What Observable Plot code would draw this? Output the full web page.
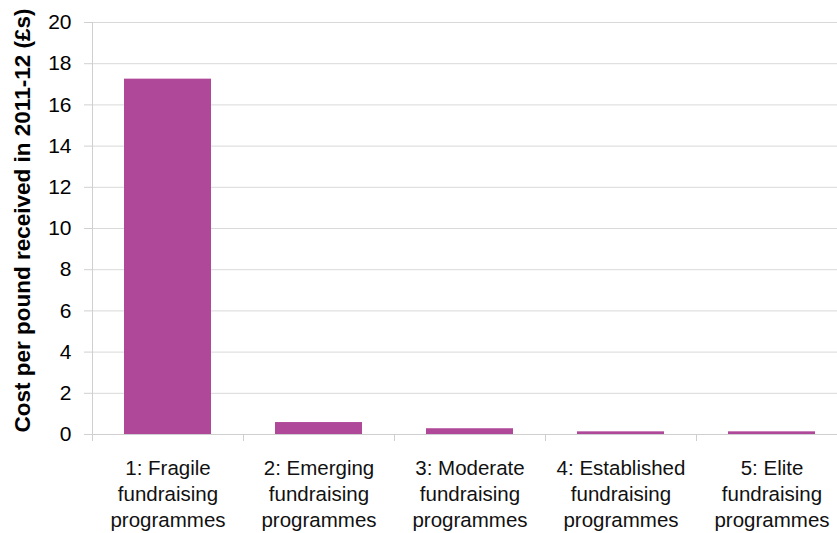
<!DOCTYPE html>
<html>
<head>
<meta charset="utf-8">
<script src="https://cdn.jsdelivr.net/npm/d3@7"></script>
<script src="https://cdn.jsdelivr.net/npm/@observablehq/plot@0.6"></script>
<style>
  html, body { margin: 0; padding: 0; background: #fff; overflow: hidden; }
  #chart { width: 837px; height: 533px; overflow: hidden; }
  #chart svg { max-width: none !important; font-family: "Liberation Sans", Arial, Helvetica, sans-serif; }
</style>
</head>
<body>
<div id="chart"></div>
<script>
const categories = [
  "1: Fragile fundraising programmes",
  "2: Emerging fundraising programmes",
  "3: Moderate fundraising programmes",
  "4: Established fundraising programmes",
  "5: Elite fundraising programmes"
];
const labelLines = [
  ["1: Fragile", "fundraising", "programmes"],
  ["2: Emerging", "fundraising", "programmes"],
  ["3: Moderate", "fundraising", "programmes"],
  ["4: Established", "fundraising", "programmes"],
  ["5: Elite", "fundraising", "programmes"]
];
const values = [17.25, 0.58, 0.28, 0.13, 0.13];
const yTicks = [0, 2, 4, 6, 8, 10, 12, 14, 16, 18, 20];
const yLabel = "Cost per pound received in 2011-12 (£s)";

const data = categories.map((c, i) => ({category: c, value: values[i]}));

const W = 847, ML = 92, MR = 0;
const step = (W - ML - MR) / categories.length;

const chart = Plot.plot({
  width: W,
  height: 533,
  marginTop: 22,
  marginBottom: 99,
  marginLeft: ML,
  marginRight: MR,
  style: {fontFamily: '"Liberation Sans", Arial, Helvetica, sans-serif', background: "#fff", maxWidth: "none"},
  x: {domain: categories, paddingInner: 0.424, paddingOuter: 0.212},
  y: {domain: [0, 20]},
  marks: [
    Plot.gridY(yTicks, {stroke: "#d9d9d9", strokeOpacity: 1}),
    Plot.barY(data, {x: "category", y: "value", fill: "#b0489a"}),
    Plot.ruleX([categories[0]], {dx: -step / 2, y1: 20, y2: 0, stroke: "#cfcfcf"}),
    Plot.ruleX(categories, {dx: -step / 2, y1: 0, y2: -0.34, stroke: "#cfcfcf"}),
    Plot.ruleY([0], {stroke: "#cfcfcf"}),
    Plot.axisY(yTicks, {
      tickSize: 8, tickPadding: 13, stroke: "#d0d0d0", fill: "#000",
      fontSize: 21, label: null
    }),
    Plot.axisX({
      tickSize: 0, tickPadding: 22, fontSize: 20.5, lineHeight: 1.27, fill: "#111",
      tickFormat: d => labelLines[categories.indexOf(d)].join("\n"), label: null
    }),
    Plot.text([yLabel], {
      frameAnchor: "left", textAnchor: "middle", rotate: -90, dx: -70, dy: -8,
      fontSize: 22.5, fontWeight: "bold", fill: "#000", text: d => d
    })
  ]
});
document.getElementById("chart").appendChild(chart);
</script>
</body>
</html>
